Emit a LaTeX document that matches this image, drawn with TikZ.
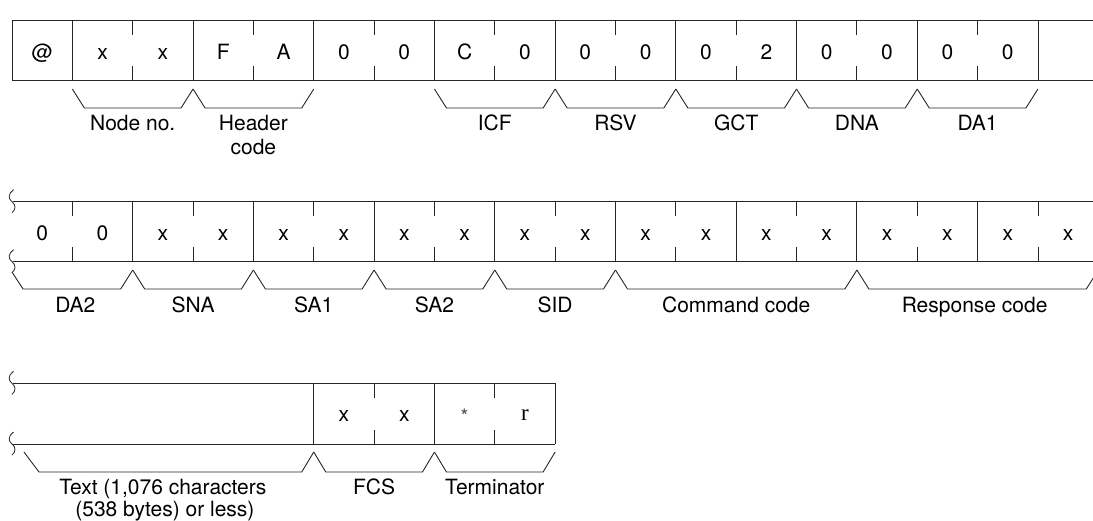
\documentclass[tikz,border=0pt]{standalone}
\usepackage{fontspec}
\setmainfont{TeX Gyre Heros}
\newfontfamily\serifr{Liberation Serif}
\begin{document}
\begin{tikzpicture}[x=1pt,y=-1pt,line width=0.9pt,
  celltext/.style={anchor=base,inner sep=0,font=\fontsize{21}{21}\selectfont},
  lab/.style={anchor=base,inner sep=0,font=\fontsize{21}{24}\selectfont},
  rule/.style={draw=black!85,line width=0.9pt},
  bracepath/.style={draw=black!85,line width=0.9pt}]
\useasboundingbox (0,0) rectangle (1093,521);
\clip (0,0) rectangle (1093,521);
\def\cw{60.35}
\def\xo{12}
\newcommand\fieldbrace[4]{\draw[bracepath] ({#1},#3) -- ({#1+12},#4) -- ({#2-12},#4) -- ({#2},#3);}
\newcommand\wavymark[1]{\draw[rule,line width=0.8pt] (13.5,#1-12) .. controls (8,#1-8) and (8,#1-3) .. (12,#1) .. controls (16,#1+3) and (16,#1+8) .. (12,#1+11);}
% ---------------- Row 1 ----------------
\def\ta{20.7}\def\ba{80.7}
\draw[rule] (\xo,\ta) -- (1100,\ta);
\draw[rule] (\xo,\ba) -- (1100,\ba);
\foreach \k in {0,1,3,5,7,9,11,13,15,17}{\draw[rule] ({\xo+\k*\cw},\ta) -- ({\xo+\k*\cw},\ba);}
\foreach \k in {2,4,...,16}{\draw[rule] ({\xo+\k*\cw},\ta) -- ++(0,14.5); \draw[rule] ({\xo+\k*\cw},\ba) -- ++(0,-14.5);}
\foreach \c [count=\i from 0] in {@,x,x,F,A,0,0,C,0,0,0,0,2,0,0,0,0}{
  \node[celltext] (ra\i) at ({\xo+(\i+0.5)*\cw},{\ta+39}) {\c};}
\fieldbrace{\xo+1*\cw}{\xo+3*\cw}{89}{108}
\fieldbrace{\xo+3*\cw}{\xo+5*\cw}{89}{108}
\fieldbrace{\xo+7*\cw}{\xo+9*\cw}{89}{108}
\fieldbrace{\xo+9*\cw}{\xo+11*\cw}{89}{108}
\fieldbrace{\xo+11*\cw}{\xo+13*\cw}{89}{108}
\fieldbrace{\xo+13*\cw}{\xo+15*\cw}{89}{108}
\fieldbrace{\xo+15*\cw}{\xo+17*\cw}{89}{108}
\node[lab] (lnode) at ({\xo+2*\cw},131) {Node no.};
\node[lab] (lhead) at ({\xo+4*\cw},131) {Header};
\node[lab] (lhead2) at ({\xo+4*\cw},154.5) {code};
\node[lab] (licf) at ({\xo+8*\cw},131) {ICF};
\node[lab] (lrsv) at ({\xo+10*\cw},131) {RSV};
\node[lab] (lgct) at ({\xo+12*\cw},131) {GCT};
\node[lab] (ldna) at ({\xo+14*\cw},131) {DNA};
\node[lab] (lda1) at ({\xo+16*\cw},131) {DA1};
% ---------------- Row 2 ----------------
\def\tb{201.7}\def\bb{261.7}
\draw[rule] (12.5,\tb) -- (1100,\tb);
\draw[rule] (12.5,\bb) -- (1100,\bb);
\wavymark{\tb}
\wavymark{\bb}
\foreach \k in {2,4,...,16}{\draw[rule] ({\xo+\k*\cw},\tb) -- ({\xo+\k*\cw},\bb);}
\foreach \k in {1,3,...,17}{\draw[rule] ({\xo+\k*\cw},\tb) -- ++(0,14.5); \draw[rule] ({\xo+\k*\cw},\bb) -- ++(0,-14.5);}
\foreach \c [count=\i from 0] in {0,0,x,x,x,x,x,x,x,x,x,x,x,x,x,x,x,x}{
  \node[celltext] (rb\i) at ({\xo+(\i+0.5)*\cw},{\tb+38.5}) {\c};}
\draw[bracepath] (12,272) -- (23,289) -- ({\xo+2*\cw-12},289) -- ({\xo+2*\cw},270);
\fieldbrace{\xo+2*\cw}{\xo+4*\cw}{270}{289}
\fieldbrace{\xo+4*\cw}{\xo+6*\cw}{270}{289}
\fieldbrace{\xo+6*\cw}{\xo+8*\cw}{270}{289}
\fieldbrace{\xo+8*\cw}{\xo+10*\cw}{270}{289}
\fieldbrace{\xo+10*\cw}{\xo+14*\cw}{270}{289}
\fieldbrace{\xo+14*\cw}{\xo+18*\cw}{270}{289}
\node[lab] (lda2) at ({\xo+1*\cw+3},313) {DA2};
\node[lab] (lsna) at ({\xo+3*\cw},313) {SNA};
\node[lab] (lsa1) at ({\xo+5*\cw},313) {SA1};
\node[lab] (lsa2) at ({\xo+7*\cw},313) {SA2};
\node[lab] (lsid) at ({\xo+9*\cw},313) {SID};
\node[lab] (lcmd) at ({\xo+12*\cw},313) {Command code};
\node[lab] (lrsp) at ({\xo+16*\cw-3},313) {Response code};
% ---------------- Row 3 ----------------
\def\tc{383.3}\def\bc{444}
\draw[rule] (12.5,\tc) -- ({\xo+9*\cw},\tc);
\draw[rule] (12.5,\bc) -- ({\xo+9*\cw},\bc);
\wavymark{\tc}
\wavymark{\bc}
\foreach \k in {5,7,9}{\draw[rule] ({\xo+\k*\cw},\tc) -- ({\xo+\k*\cw},\bc);}
\foreach \k in {6,8}{\draw[rule] ({\xo+\k*\cw},\tc) -- ++(0,14.5); \draw[rule] ({\xo+\k*\cw},\bc) -- ++(0,-14.5);}
\node[celltext] (rc5) at ({\xo+5.5*\cw},{\tc+38.5}) {x};
\node[celltext] (rc6) at ({\xo+6.5*\cw},{\tc+38.5}) {x};
\node[inner sep=0,text=black!70,font=\rmfamily\fontsize{20}{20}\selectfont] (rc7) at ({\xo+7.5*\cw},{\tc+33}) {*};
\node[anchor=base,inner sep=0,font=\serifr\fontsize{23}{23}\selectfont] (rc8) at ({\xo+8.5*\cw},{\tc+37}) {r};
\draw[bracepath] (24,452) -- (39,472) -- ({\xo+5*\cw-12},472) -- ({\xo+5*\cw},452);
\fieldbrace{\xo+5*\cw}{\xo+7*\cw}{452}{472}
\fieldbrace{\xo+7*\cw}{\xo+9*\cw}{452}{472}
\node[lab] (ltext) at ({\xo+2.5*\cw},494) {Text (1,076 characters};
\node[lab] (ltext2) at ({\xo+2.5*\cw+2},516) {(538 bytes) or less)};
\node[lab] (lfcs) at ({\xo+6*\cw},494) {FCS};
\node[lab] (lterm) at ({\xo+8*\cw},494) {Terminator};
\end{tikzpicture}
\end{document}
